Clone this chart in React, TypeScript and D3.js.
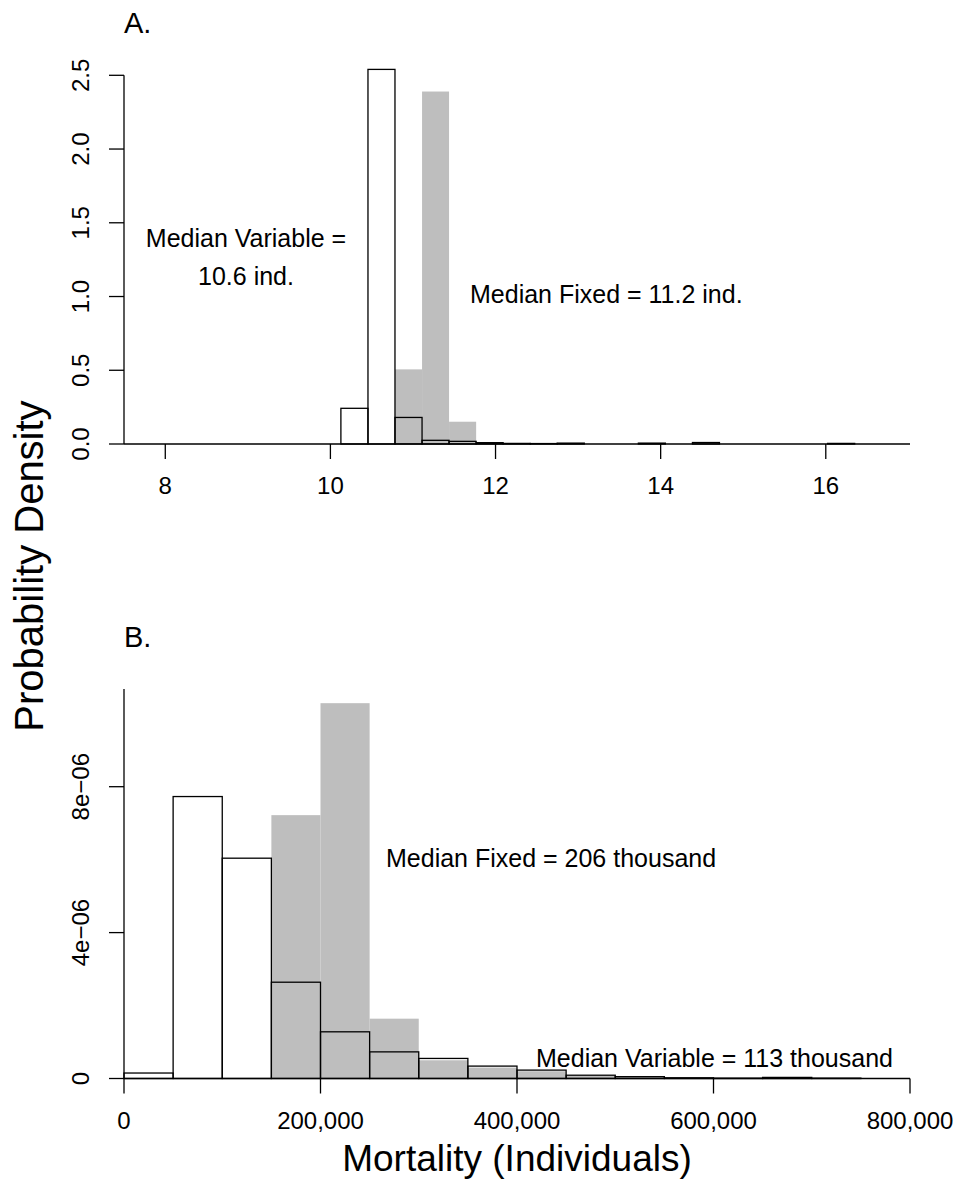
import * as d3 from "d3";

// Panel A: mortality in individuals, histogram breaks and densities
const breaksA = [
  10.127, 10.455, 10.782, 11.11, 11.437, 11.765, 12.092, 12.42, 12.747, 13.075,
  13.402, 13.73, 14.057, 14.385, 14.712, 15.04, 15.367, 15.695, 16.022, 16.35,
];
const variableA = [
  0.242, 2.54, 0.18, 0.025, 0.018, 0.009, 0.004, 0.003, 0.006, 0, 0, 0.006, 0, 0.01, 0, 0, 0, 0, 0.004,
];
const fixedA = [0, 0, 0.506, 2.39, 0.151, 0.006, 0.002, 0, 0, 0, 0, 0, 0, 0, 0, 0, 0, 0, 0];
const xTicksA = [8, 10, 12, 14, 16];
const yTicksA = [0, 0.5, 1, 1.5, 2, 2.5];
const yTickLabelsA = ["0.0", "0.5", "1.0", "1.5", "2.0", "2.5"];

// Panel B: mortality in individuals (large population)
const breaksB = [
  0, 50000, 100000, 150000, 200000, 250000, 300000, 350000, 400000, 450000, 500000, 550000, 600000,
  650000, 700000, 750000,
];
const variableB = [
  0.15e-6, 7.73e-6, 6.04e-6, 2.64e-6, 1.28e-6, 0.73e-6, 0.55e-6, 0.34e-6, 0.23e-6, 0.09e-6, 0.05e-6,
  0.02e-6, 0.01e-6, 0.03e-6, 0.01e-6,
];
const fixedB = [
  0, 0, 0, 7.22e-6, 10.29e-6, 1.64e-6, 0.5e-6, 0.3e-6, 0.2e-6, 0.07e-6, 0.03e-6, 0.01e-6, 0, 0.01e-6, 0,
];
const xTicksB = [0, 200000, 400000, 600000, 800000];
const yTicksB = [0, 4e-6, 8e-6];
const yTickLabelsB = ["0", "4e\u221206", "8e\u221206"];

const FONT = "'Liberation Sans', Arial, Helvetica, sans-serif";
const TICK = 15;

function Hist({ breaks, values, x, y, fill, stroke }) {
  return (
    <g>
      {values.map((v, i) => (
        <rect
          key={i}
          x={x(breaks[i])}
          y={y(v)}
          width={x(breaks[i + 1]) - x(breaks[i])}
          height={y(0) - y(v)}
          fill={fill}
          stroke={stroke}
          strokeWidth={stroke === "none" ? 0 : 1.3}
        />
      ))}
    </g>
  );
}

function Panel({ letter, top, bottom, xDomain, xTicks, xFormat, yDomain, yTicks, yLabels, axisTop, breaks, fixed, variable, notes }) {
  const left = 124;
  const right = 910;
  const x = d3.scaleLinear().domain(xDomain).range([left, right]);
  const y = d3.scaleLinear().domain(yDomain).range([bottom, top]);

  return (
    <g fontFamily={FONT}>
      <text x={left} y={top - 42} fontSize={29}>{letter}</text>
      <Hist breaks={breaks} values={fixed} x={x} y={y} fill="#bebebe" stroke="none" />
      <Hist breaks={breaks} values={variable} x={x} y={y} fill="none" stroke="#000" />
      <line x1={left} x2={right} y1={bottom} y2={bottom} stroke="#000" strokeWidth={1.3} />
      <line x1={left} x2={left} y1={bottom} y2={y(axisTop)} stroke="#000" strokeWidth={1.3} />
      {yTicks.map((t, i) => (
        <g key={t} transform={`translate(${left},${y(t)})`}>
          <line x1={-TICK} x2={0} stroke="#000" strokeWidth={1.3} />
          <text transform="translate(-35,0) rotate(-90)" textAnchor="middle" fontSize={24}>
            {yLabels[i]}
          </text>
        </g>
      ))}
      {xTicks.map((t) => (
        <g key={t} transform={`translate(${x(t)},${bottom})`}>
          <line y1={0} y2={TICK} stroke="#000" strokeWidth={1.3} />
          <text y={50} textAnchor="middle" fontSize={24}>{xFormat(t)}</text>
        </g>
      ))}
      {notes.map((n, i) => (
        <text key={i} x={n.x} y={n.y} textAnchor={n.anchor} fontSize={25}>{n.text}</text>
      ))}
    </g>
  );
}

export default function App() {
  return (
    <svg width={959} height={1186} style={{ position: "absolute", left: 0, top: 0, background: "#fff" }}>
      <rect width={959} height={1186} fill="#fff" />
      <Panel
        letter="A."
        top={75.3}
        bottom={444}
        xDomain={[7.5, 17.02]}
        xTicks={xTicksA}
        xFormat={(d) => String(d)}
        yDomain={[0, 2.5]}
        yTicks={yTicksA}
        yLabels={yTickLabelsA}
        axisTop={2.5}
        breaks={breaksA}
        fixed={fixedA}
        variable={variableA}
        notes={[
          { x: 246, y: 247, anchor: "middle", text: "Median Variable =" },
          { x: 246, y: 285, anchor: "middle", text: "10.6 ind." },
          { x: 470, y: 303, anchor: "start", text: "Median Fixed = 11.2 ind." },
        ]}
      />
      <Panel
        letter="B."
        top={786.7 - (1078.5 - 786.7) * 0.335}
        bottom={1078.5}
        xDomain={[0, 800000]}
        xTicks={xTicksB}
        xFormat={d3.format(",")}
        yDomain={[0, 8e-6 * 1.335]}
        yTicks={yTicksB}
        yLabels={yTickLabelsB}
        axisTop={8e-6 * 1.335}
        breaks={breaksB}
        fixed={fixedB}
        variable={variableB}
        notes={[
          { x: 386, y: 867, anchor: "start", text: "Median Fixed = 206 thousand" },
          { x: 536, y: 1067, anchor: "start", text: "Median Variable = 113 thousand" },
        ]}
      />
      <text
        transform="translate(43,566) rotate(-90)"
        textAnchor="middle"
        fontFamily={FONT}
        fontSize={40}
      >
        Probability Density
      </text>
      <text x={517} y={1171} textAnchor="middle" fontFamily={FONT} fontSize={37}>
        Mortality (Individuals)
      </text>
    </svg>
  );
}
